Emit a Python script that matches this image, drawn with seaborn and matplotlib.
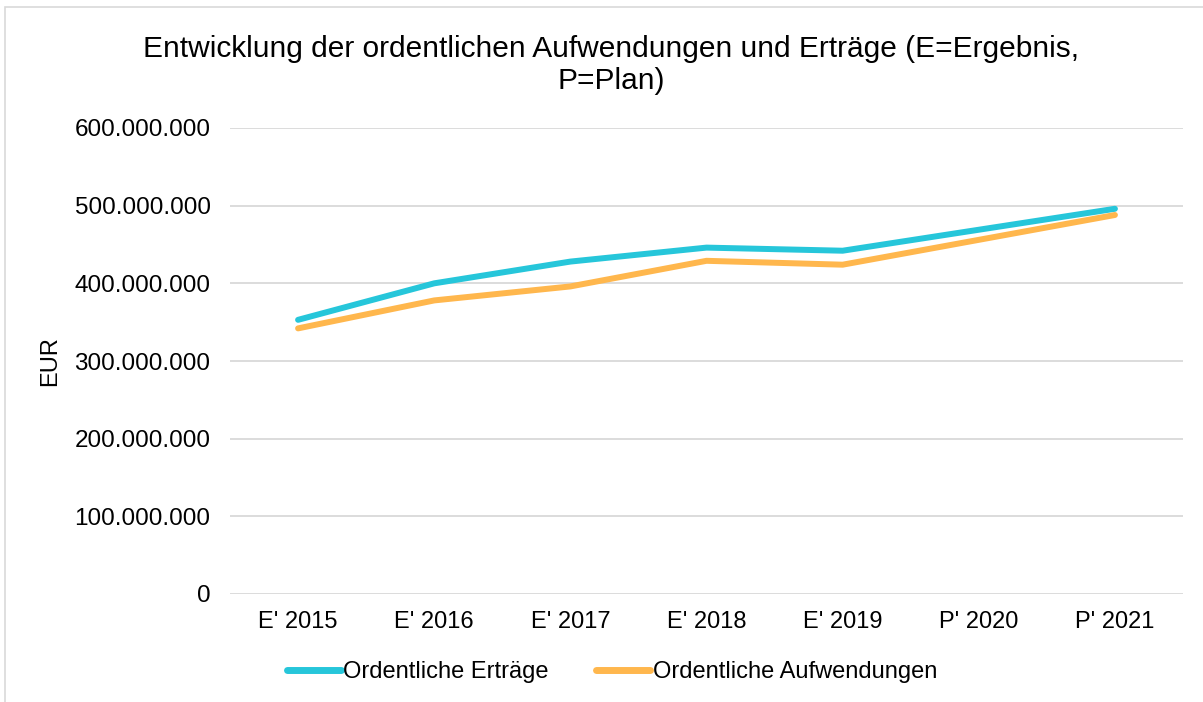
import matplotlib
matplotlib.use("Agg")
import matplotlib.pyplot as plt
import matplotlib.ticker as mticker
from matplotlib.patches import Rectangle
import seaborn as sns
import pandas as pd

# data (EUR)
years = ["E' 2015", "E' 2016", "E' 2017", "E' 2018", "E' 2019", "P' 2020", "P' 2021"]
ertraege = [353e6, 400e6, 428e6, 446e6, 442e6, 469e6, 496e6]
aufwendungen = [342e6, 378e6, 396e6, 429e6, 424e6, 456e6, 488e6]
series_names = ["Ordentliche Erträge", "Ordentliche Aufwendungen"]
colors = ["#26C6DA", "#FFB74D"]

df = pd.DataFrame({
    "Jahr": years * 2,
    "Wert": ertraege + aufwendungen,
    "Reihe": [series_names[0]] * len(years) + [series_names[1]] * len(years),
})

sns.set_theme(style="white")
plt.rcParams["font.family"] = ["Liberation Sans", "DejaVu Sans"]
plt.rcParams["text.color"] = "black"

fig = plt.figure(figsize=(12.03, 7.02), dpi=100)
ax = fig.add_axes([230 / 1203, 1 - 594 / 702, (1183 - 230) / 1203, (594 - 128) / 702])

sns.lineplot(data=df, x="Jahr", y="Wert", hue="Reihe", palette=colors,
             linewidth=4.3, sort=False, ax=ax, solid_capstyle="round")

ax.set_xlim(-0.5, len(years) - 0.5)
ax.set_ylim(0, 600e6)
ax.yaxis.set_major_locator(mticker.MultipleLocator(100e6))
ax.yaxis.set_major_formatter(mticker.FuncFormatter(lambda v, p: f"{int(round(v)):,}".replace(",", ".")))
ax.grid(axis="y", color="#D9D9D9", linewidth=1.3)
ax.set_axisbelow(True)
for s in ax.spines.values():
    s.set_visible(False)
ax.tick_params(axis="x", length=0, labelsize=17, colors="black", pad=12)
ax.tick_params(axis="y", length=0, labelsize=17.5, colors="black", pad=14)
ax.set_xlabel("")
ax.set_ylabel("EUR", fontsize=17, labelpad=10, color="black")

fig.text(611 / 1203, 1 - 65 / 702,
         "Entwicklung der ordentlichen Aufwendungen und Erträge (E=Ergebnis,\nP=Plan)",
         ha="center", va="center", fontsize=21.5, linespacing=1.15, color="black")

leg = ax.legend(loc="center", bbox_to_anchor=(612 / 1203, 1 - 672 / 702), bbox_transform=fig.transFigure,
                ncol=2, frameon=False, fontsize=17, handlelength=2.3, handletextpad=0.1,
                columnspacing=2.0)
for line in leg.get_lines():
    line.set_linewidth(5)
for t in leg.get_texts():
    t.set_color("black")

fig.patches.append(Rectangle((5 / 1203, -0.1), 1.2, 1 - 7 / 702 + 0.1, transform=fig.transFigure,
                             fill=False, edgecolor="#D9D9D9", linewidth=1.2))

fig.savefig("out.png", dpi=100)
